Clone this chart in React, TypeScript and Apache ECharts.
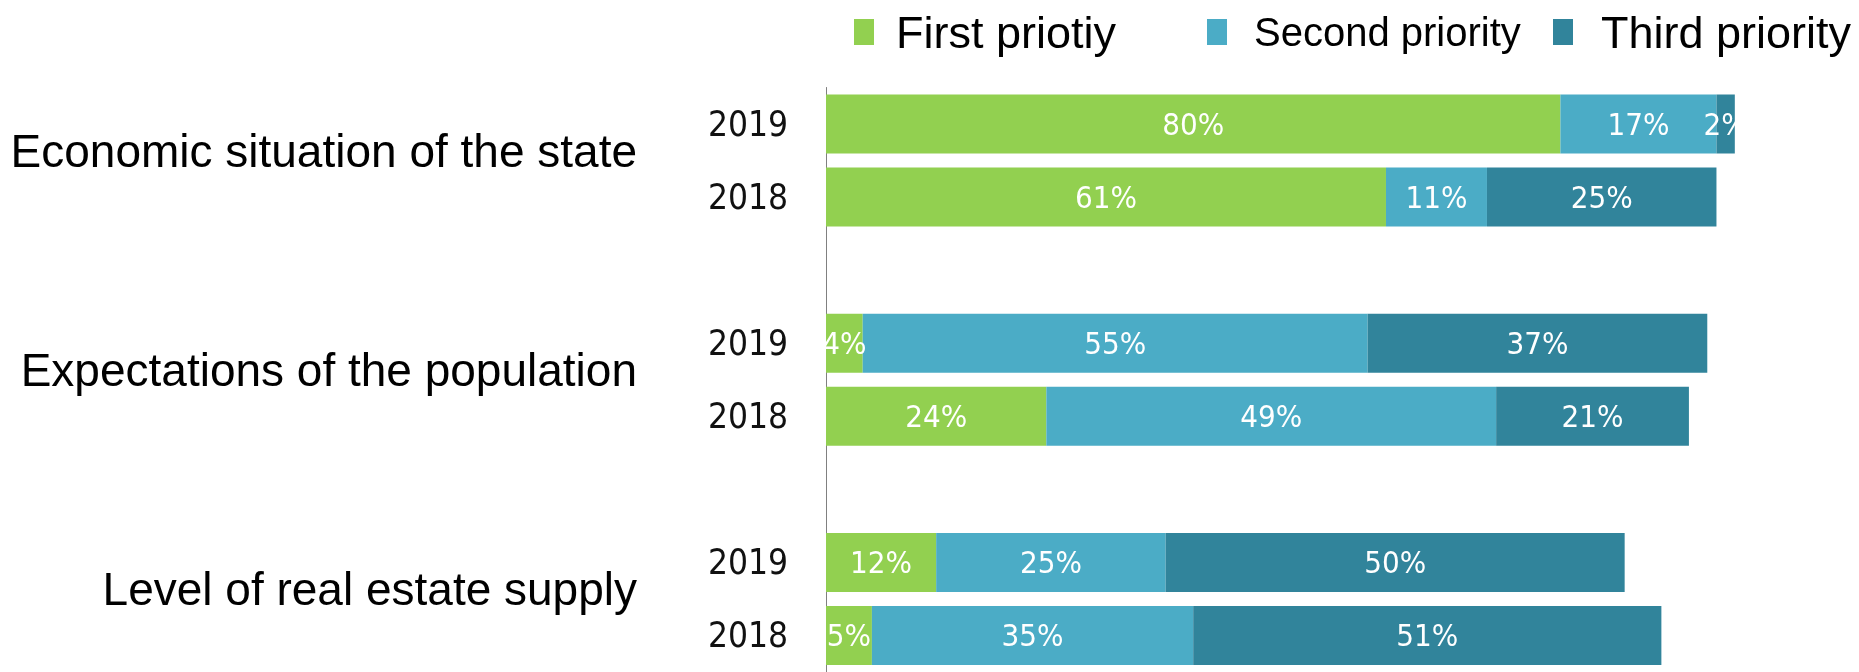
import React, { useEffect, useRef } from 'react';
import * as echarts from 'echarts';

const groups = ['Economic situation of the state', 'Expectations of the population', 'Level of real estate supply'];
const years = ['2019', '2018'];
const seriesNames = ['First priotiy', 'Second priority', 'Third priority'];
// row order: for each group, 2019 then 2018
const firstPriority = [80, 61, 4, 24, 12, 5];
const secondPriority = [17, 11, 55, 49, 25, 35];
const thirdPriority = [2, 25, 37, 21, 50, 51];
const colors = ['#92D050', '#4BACC6', '#31849B'];

const NARROW = '"DejaVu Sans Condensed", "Liberation Sans Narrow", sans-serif';
const SANS = '"Liberation Sans", Arial, sans-serif';

export default function App() {
  const ref = useRef<HTMLDivElement>(null);
  useEffect(() => {
    const chart = echarts.init(ref.current!, null, { renderer: 'svg' });

    const cats: string[] = [];
    const rowSlot: number[] = [];
    groups.forEach((g, gi) => {
      years.forEach((y) => {
        rowSlot.push(cats.length);
        cats.push(`${y}|${gi}`);
      });
      if (gi < groups.length - 1) cats.push(`|gap${gi}`);
    });

    const toSlots = (vals: number[]) => {
      const out: (number | string)[] = cats.map(() => '-');
      vals.forEach((v, i) => { out[rowSlot[i]] = v; });
      return out;
    };
    const allSeries = [firstPriority, secondPriority, thirdPriority];

    const legendFont = [45, 40, 45];
    const legendLeft = [854, 1207, 1553];
    const legendPad = [17, 22, 23];

    chart.setOption({
      animation: false,
      grid: { left: 826, top: 87.5, width: 918, height: 591, containLabel: false },
      xAxis: { type: 'value', min: 0, max: 100, show: false },
      yAxis: {
        type: 'category',
        data: cats,
        inverse: true,
        axisLine: { show: true, lineStyle: { color: '#808080', width: 1 } },
        axisTick: { show: false },
        splitLine: { show: false },
        axisLabel: {
          formatter: (v: string) => v.split('|')[0],
          fontSize: 35,
          fontFamily: NARROW,
          color: '#111',
          margin: 38,
        },
      },
      legend: seriesNames.map((n, i) => ({
        data: [{ name: n, icon: 'rect' }],
        left: legendLeft[i],
        top: 32 - legendFont[i] / 2,
        itemWidth: 20,
        itemHeight: 26,
        selectedMode: false,
        padding: 0,
        textStyle: {
          fontSize: legendFont[i],
          lineHeight: legendFont[i],
          fontFamily: SANS,
          color: '#000',
          padding: [0, 0, 0, legendPad[i]],
        },
      })),
      series: seriesNames.map((n, i) => ({
        name: n,
        type: 'bar',
        stack: 'total',
        barWidth: 59,
        data: toSlots(allSeries[i]),
        itemStyle: { color: colors[i] },
        label: {
          show: true,
          position: 'inside',
          color: '#fff',
          fontFamily: NARROW,
          fontSize: 31,
          formatter: (p: any) => `${p.value}%`,
        },
      })),
    });

    const graphic = groups.map((g, gi) => {
      const y0 = chart.convertToPixel({ yAxisIndex: 0 }, cats[rowSlot[gi * 2]]) as number;
      const y1 = chart.convertToPixel({ yAxisIndex: 0 }, cats[rowSlot[gi * 2 + 1]]) as number;
      return {
        type: 'text',
        right: 1859 - 637,
        y: (y0 + y1) / 2 - 10,
        style: {
          text: g,
          fontSize: 46,
          fontFamily: SANS,
          fill: '#000',
          textAlign: 'right',
          textVerticalAlign: 'middle',
        },
      };
    });
    chart.setOption({ graphic });

    return () => chart.dispose();
  }, []);
  return <div ref={ref} style={{ position: 'fixed', left: 0, top: 0, width: 1859, height: 672 }} />;
}
